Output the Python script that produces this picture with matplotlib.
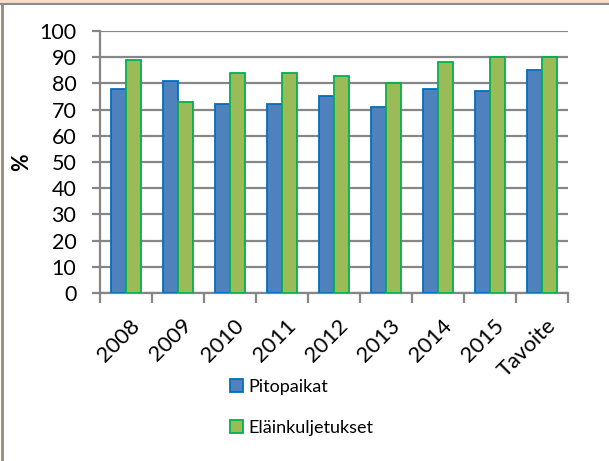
import matplotlib.pyplot as plt
import numpy as np
from matplotlib.patches import Rectangle
from matplotlib.lines import Line2D
from matplotlib.transforms import ScaledTranslation

plt.rcParams['font.family'] = ['Lato', 'DejaVu Sans']

categories = ['2008', '2009', '2010', '2011', '2012', '2013', '2014', '2015', 'Tavoite']
pitopaikat = [78, 81, 72, 72, 75, 71, 78, 77, 85]
elainkuljetukset = [89, 73, 84, 84, 83, 80, 88, 90, 90]

fig = plt.figure(figsize=(6.09, 4.61), dpi=100)
ax = fig.add_axes([100/609, 1-293/461, 468/609, 262/461])

x = np.arange(len(categories))
w = 0.29
b1 = ax.bar(x - w/2, pitopaikat, w, color='#4F81BD', edgecolor='#0070C0', linewidth=1.3,
            label='Pitopaikat', zorder=3)
b2 = ax.bar(x + w/2, elainkuljetukset, w, color='#9BBB59', edgecolor='#00B050', linewidth=1.3,
            label='Eläinkuljetukset', zorder=3)

ax.set_xlim(-0.5, len(categories) - 0.5)
ax.set_ylim(0, 100)
ax.set_yticks(range(0, 101, 10))
ax.yaxis.grid(True, color='#868686', linewidth=1.6, zorder=0)
ax.set_axisbelow(True)

for s in ['top', 'right']:
    ax.spines[s].set_visible(False)
for s in ['left', 'bottom']:
    ax.spines[s].set_color('#868686')
    ax.spines[s].set_linewidth(1.6)

ax.set_xticks(x)
ax.set_xticklabels(categories, rotation=45, ha='right', va='top', rotation_mode='anchor',
                   fontsize=15.8)
ax.tick_params(axis='x', which='major', length=0, pad=16)
ax.set_xticks(np.arange(-0.5, len(categories)), minor=True)
ax.tick_params(axis='x', which='minor', length=7, width=1.6, color='#868686', direction='out')
ax.tick_params(axis='y', length=6, width=1.6, color='#868686', labelsize=15.5, pad=11)

# nudge rotated labels a little to the right, as in the original
shift = ScaledTranslation(4/100, 0, fig.dpi_scale_trans)
for lab in ax.get_xticklabels():
    lab.set_transform(lab.get_transform() + shift)

fig.text(22/609, 1-162/461, '%', rotation=90, ha='center', va='center',
         fontsize=15.5, fontweight='bold')

leg = fig.legend(handles=[b1, b2], loc='upper left', bbox_to_anchor=(221/609, 1-370/461),
                 frameon=False, fontsize=13, handlelength=0.72, handleheight=0.72,
                 handletextpad=0.28, labelspacing=1.36, borderpad=0)

# outer frame like the spreadsheet chart border
fig.patches.append(Rectangle((0, 1-3/461), 1, 3/461, transform=fig.transFigure,
                             color='#F7DCC8', zorder=0))
fig.lines.append(Line2D([0, 1], [1-4/461, 1-4/461], transform=fig.transFigure,
                        color='#8C8C8C', linewidth=1.5))
fig.lines.append(Line2D([1.5/609, 1.5/609], [0, 1-4/461], transform=fig.transFigure,
                        color='#9C8878', linewidth=2))

fig.savefig('out.png', dpi=100)
